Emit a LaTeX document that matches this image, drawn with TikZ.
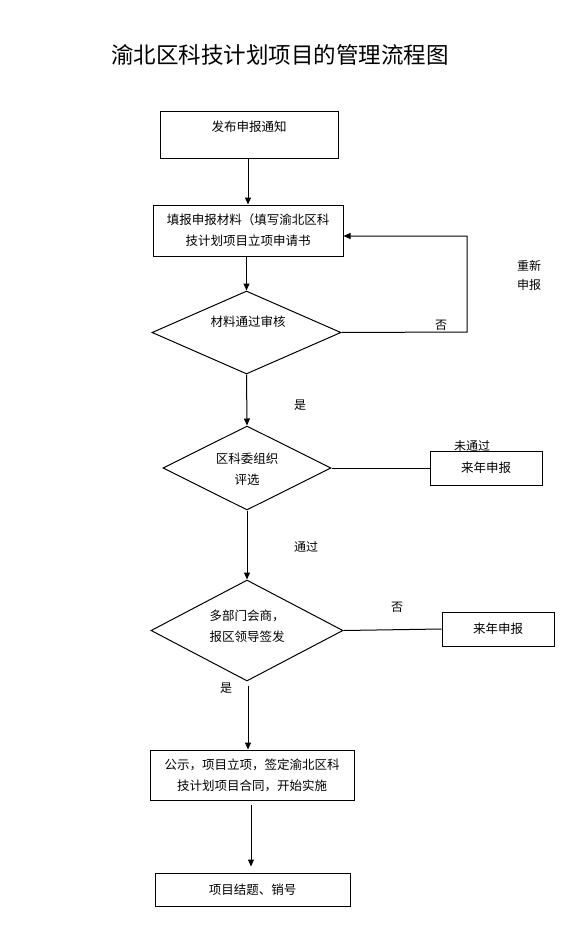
\documentclass[tikz,border=0pt]{standalone}
\usepackage{fontspec}
\newfontfamily\cjk{Noto Sans CJK SC}
\usetikzlibrary{shapes.geometric,arrows.meta}
\tikzset{
  box/.style={draw, line width=1pt, inner sep=0pt, rectangle},
  dia/.style={draw, line width=1pt, inner sep=0pt, diamond},
  txt/.style={font=\cjk\fontsize{12.5}{21}\selectfont, align=center, inner sep=0pt},
  lbl/.style={font=\cjk\fontsize{12}{19}\selectfont, align=center, inner sep=0pt},
  ln/.style={line width=1pt},
  arr/.style={line width=1pt, -{Triangle[length=7pt,width=6pt]}}
}
\begin{document}
\begin{tikzpicture}[x=1pt,y=-1pt]
\useasboundingbox (0,0) rectangle (585,931);
% title
\node[font=\cjk\fontsize{22.5}{26}\selectfont, inner sep=0pt] (title) at (280,55) {渝北区科技计划项目的管理流程图};
% boxes
\node[box, minimum width=178pt, minimum height=46pt] (b1) at (249,135) {};
\node[txt] (t1) at (249,127) {发布申报通知};
\node[box, minimum width=190pt, minimum height=51pt, txt] (b2) at (248,230.5) {填报申报材料（填写渝北区科\\技计划项目立项申请书};
\node[dia, minimum width=189pt, minimum height=83pt] (d1) at (246.5,332.5) {};
\node[txt] (t2) at (248,322) {材料通过审核};
\node[dia, minimum width=168pt, minimum height=84pt] (d2) at (247,468) {};
\node[txt] (t3) at (247,469) {区科委组织\\评选};
\node[box, minimum width=112pt, minimum height=34pt, txt] (b3) at (486,468) {来年申报};
\node[dia, minimum width=192pt, minimum height=101pt] (d3) at (247,630.5) {};
\node[txt] (t4) at (247,626) {多部门会商，\\报区领导签发};
\node[box, minimum width=112pt, minimum height=34pt, txt] (b4) at (498,629) {来年申报};
\node[box, minimum width=204pt, minimum height=50pt, txt] (b5) at (252,775) {公示，项目立项，签定渝北区科\\技计划项目合同，开始实施};
\node[box, minimum width=195pt, minimum height=33pt, txt] (b6) at (252.5,889.5) {项目结题、销号};
% labels
\node[lbl] (l1) at (441,325) {否};
\node[lbl] (l2) at (529,275.5) {重新\\申报};
\node[lbl] (l3) at (300,405) {是};
\node[lbl] (l4) at (472,446) {未通过};
\node[lbl] (l5) at (306,547) {通过};
\node[lbl] (l6) at (397,607) {否};
\node[lbl] (l7) at (226,688) {是};
% coordinates
\coordinate (c1) at (467,332);
\coordinate (c2) at (467,236);
\coordinate (c3) at (248,686);
\coordinate (c4) at (251,805);
% connectors
\draw[arr] (b1.south -| b2.north) -- (b2.north);
\draw[arr] (b2.south -| d1.north) -- (d1.north);
\draw[arr] (d1.east) -- (c1) -- (c2) -- (b2.east |- c2);
\draw[arr] (d1.south) -- (d2.north);
\draw[ln] (d2.east) -- (b3.west);
\draw[arr] (d2.south) -- (d3.north);
\draw[ln] (d3.east) -- (b4.west);
\draw[arr] (c3) -- (b5.north -| c3);
\draw[arr, shorten >=6pt] (c4) -- (b6.north -| c4);
\end{tikzpicture}
\end{document}
